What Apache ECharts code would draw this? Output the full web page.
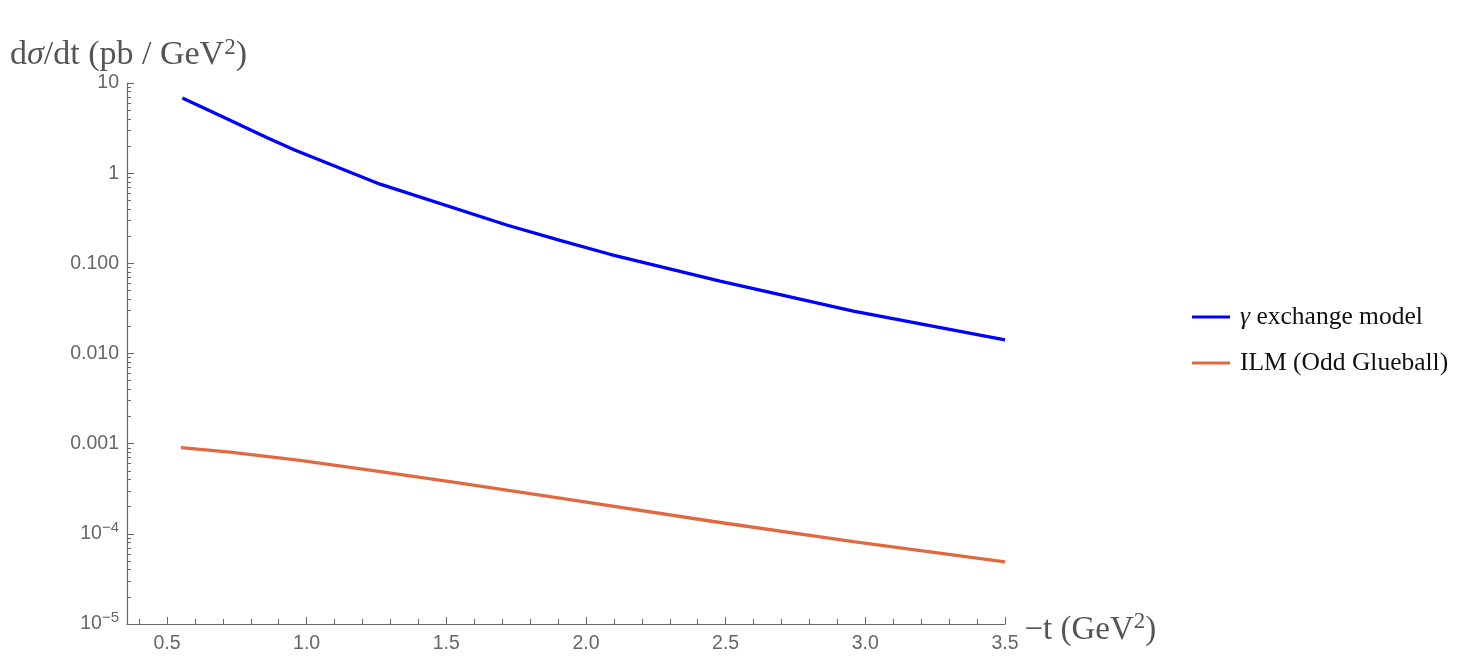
<!DOCTYPE html>
<html>
<head>
<meta charset="utf-8">
<script src="https://cdn.jsdelivr.net/npm/echarts@6/dist/echarts.min.js"></script>
<style>html,body{margin:0;padding:0;background:#fff;}#c{width:1468px;height:664px;}</style>
</head>
<body>
<div id="c"></div>
<script>
// ---- data ----
var gammaT = [0.555, 0.68, 0.857, 0.955, 1.263, 1.716, 1.907, 2.086, 2.48, 2.957, 3.5];
var gammaVals = [6.8, 4.5, 2.49, 1.82, 0.755, 0.266, 0.18, 0.126, 0.0636, 0.0295, 0.0142];
var ilmT = [0.55, 0.726, 0.976, 1.239, 1.525, 1.907, 2.456, 2.957, 3.5];
var ilmVals = [9.05e-4, 8.07e-4, 6.52e-4, 5.01e-4, 3.74e-4, 2.49e-4, 1.37e-4, 8.2e-5, 4.9e-5];
var seriesNames = ['γ exchange model', 'ILM (Odd Glueball)'];
var xMajorTicks = [0.5, 1.0, 1.5, 2.0, 2.5, 3.0, 3.5];
var xMinorTicks = [0.4,0.5,0.6,0.7,0.8,0.9,1.0,1.1,1.2,1.3,1.4,1.5,1.6,1.7,1.8,1.9,2.0,2.1,2.2,2.3,2.4,2.5,2.6,2.7,2.8,2.9,3.0,3.1,3.2,3.3,3.4,3.5];
var yMajorTicks = [1e-5, 1e-4, 1e-3, 1e-2, 1e-1, 1, 10];
var yTickLabels = ['10^−5', '10^−4', '0.001', '0.010', '0.100', '1', '10'];
var yMinorMult = [2, 3, 4, 5, 6, 7, 8, 9];

function zip(a, b) { return a.map(function (v, i) { return [v, b[i]]; }); }
var yMinorTicks = [];
for (var d = 0; d < yMajorTicks.length - 1; d++) {
  yMinorMult.forEach(function (m) { yMinorTicks.push(+(yMajorTicks[d] * m).toPrecision(3)); });
}

var axisGrey = '#666666';
var labelGrey = '#666666';
var titleGrey = '#555555';
var xMin = 0.357, xMax = 3.5;

var chart = echarts.init(document.getElementById('c'));
chart.setOption({
  animation: false,
  backgroundColor: '#ffffff',
  title: {
    text: 'd{i|σ}/dt (pb / GeV{sup|2})',
    left: 5, top: 31,
    textStyle: {
      fontFamily: 'Liberation Serif', fontSize: 34, fontWeight: 'normal', color: titleGrey,
      rich: {
        i: { fontFamily: 'Liberation Serif', fontStyle: 'italic', fontSize: 34, color: titleGrey },
        sup: { fontFamily: 'Liberation Serif', fontSize: 23, color: titleGrey, verticalAlign: 'top', padding: [0, 0, 16, 0] }
      }
    }
  },
  legend: {
    orient: 'vertical',
    left: 1187, top: 299,
    itemWidth: 38, itemHeight: 3, itemGap: 20,
    icon: 'rect',
    data: seriesNames,
    formatter: function (n) {
      if (n.charAt(0) === 'γ') return '{i|γ}' + n.slice(1);
      return n;
    },
    textStyle: {
      fontFamily: 'Liberation Serif', fontSize: 25.5, color: '#111', padding: [0, 0, 0, 5],
      rich: { i: { fontFamily: 'Liberation Serif', fontStyle: 'italic', fontSize: 25.5, color: '#111' } }
    }
  },
  grid: { left: 127, top: 83, width: 878, height: 541, containLabel: false },
  xAxis: [{
    type: 'value', min: xMin, max: xMax,
    axisLine: { show: true, lineStyle: { color: axisGrey, width: 1.2 } },
    axisTick: { show: true, inside: true, length: 7, customValues: xMajorTicks, lineStyle: { color: axisGrey } },
    axisLabel: {
      customValues: xMajorTicks, margin: 10, fontFamily: 'Liberation Sans', fontSize: 19.5, color: labelGrey,
      formatter: function (v) { return v.toFixed(1); }
    },
    splitLine: { show: false },
    name: '−t (GeV{sup|2})',
    nameLocation: 'end', nameGap: 10,
    nameTextStyle: {
      fontFamily: 'Liberation Serif', fontSize: 33, color: titleGrey, verticalAlign: 'middle', padding: [12, 0, 0, 0],
      rich: { sup: { fontFamily: 'Liberation Serif', fontSize: 23, color: titleGrey, verticalAlign: 'top', padding: [0, 0, 16, 0] } }
    }
  }, {
    type: 'value', min: xMin, max: xMax, position: 'bottom',
    axisLine: { show: false },
    axisTick: { show: true, inside: true, length: 5, customValues: xMinorTicks, lineStyle: { color: axisGrey } },
    axisLabel: { show: false },
    splitLine: { show: false }
  }],
  yAxis: [{
    type: 'log', logBase: 10, min: 1e-5, max: 10,
    axisLine: { show: true, lineStyle: { color: axisGrey, width: 1.2 } },
    axisTick: { show: true, inside: true, length: 7, customValues: yMajorTicks, lineStyle: { color: axisGrey } },
    axisLabel: {
      customValues: yMajorTicks, margin: 8, fontFamily: 'Liberation Sans', fontSize: 19.5, color: labelGrey,
      formatter: function (v) {
        var i = yMajorTicks.findIndex(function (t) { return Math.abs(Math.log10(t) - Math.log10(v)) < 1e-6; });
        var s = i >= 0 ? yTickLabels[i] : String(v);
        if (s.indexOf('^') >= 0) {
          var p = s.split('^');
          return '{b|' + p[0] + '}{s|' + p[1] + '}';
        }
        return '{b|' + s + '}';
      },
      rich: {
        b: { fontFamily: 'Liberation Sans', fontSize: 19.5, color: labelGrey },
        s: { fontFamily: 'Liberation Sans', fontSize: 15, color: labelGrey, verticalAlign: 'top', padding: [0, 0, 12, 0] }
      }
    },
    splitLine: { show: false }
  }, {
    type: 'log', logBase: 10, min: 1e-5, max: 10, position: 'left',
    axisLine: { show: false },
    axisTick: { show: true, inside: true, length: 4, customValues: yMinorTicks, lineStyle: { color: axisGrey } },
    axisLabel: { show: false },
    splitLine: { show: false }
  }],
  series: [{
    name: seriesNames[0], type: 'line', xAxisIndex: 0, yAxisIndex: 0,
    data: zip(gammaT, gammaVals), showSymbol: false, smooth: false,
    lineStyle: { color: '#0000ff', width: 3.3 }, itemStyle: { color: '#0000ff' }
  }, {
    name: seriesNames[1], type: 'line', xAxisIndex: 0, yAxisIndex: 0,
    data: zip(ilmT, ilmVals), showSymbol: false, smooth: false,
    lineStyle: { color: '#e06a40', width: 3.3 }, itemStyle: { color: '#e06a40' }
  }]
});
</script>
</body>
</html>
